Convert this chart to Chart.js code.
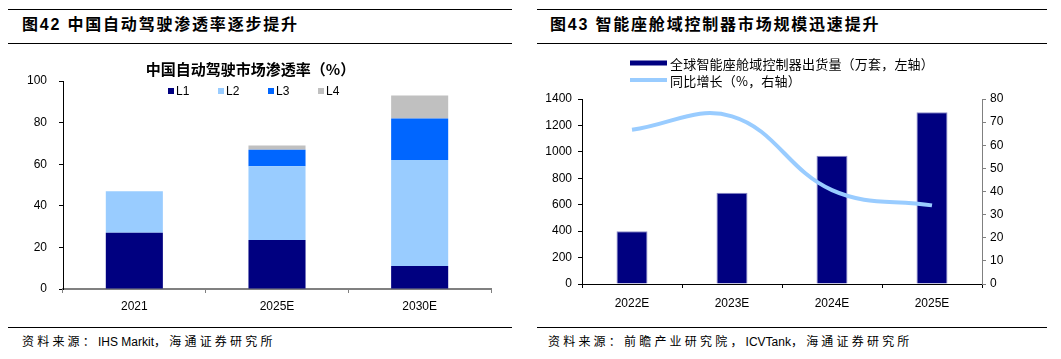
<!DOCTYPE html>
<html lang="zh">
<head>
<meta charset="UTF-8">
<title>自动驾驶渗透率 / 智能座舱域控制器</title>
<script src="https://cdn.jsdelivr.net/npm/chart.js"></script>
<style>
    body {
        margin: 0;
        width: 1061px;
        height: 359px;
        background: #fff;
        position: relative;
        overflow: hidden;
        font-family: "Liberation Sans", "Noto Sans CJK SC", sans-serif;
        color: #000;
    }
    .rule { position: absolute; height: 1px; background: #000; }
    .head {
        position: absolute;
        font-size: 16px;
        font-weight: bold;
        letter-spacing: 1.8px;
        line-height: 20px;
        white-space: nowrap;
    }
    .src {
        position: absolute;
        font-size: 12px;
        letter-spacing: 3.2px;
        line-height: 16px;
        white-space: nowrap;
    }
    .src span { letter-spacing: 0; }
    canvas { position: absolute; }
</style>
</head>
<body>
<!-- 左：图42 -->
<div class="rule" style="left:8px;top:9px;width:504px"></div>
<div class="head" style="left:22px;top:15px">图42 中国自动驾驶渗透率逐步提升</div>
<div class="rule" style="left:8px;top:43px;width:504px"></div>
<canvas id="penetration" width="502" height="276" style="left:10px;top:48px"></canvas>
<div class="rule" style="left:8px;top:327px;width:504px"></div>
<div class="src" style="left:22px;top:334px">资料来源：<span>IHS Markit</span>，海通证券研究所</div>

<!-- 右：图43 -->
<div class="rule" style="left:537px;top:9px;width:510px"></div>
<div class="head" style="left:550px;top:15px">图43 智能座舱域控制器市场规模迅速提升</div>
<div class="rule" style="left:537px;top:43px;width:510px"></div>
<canvas id="cockpit" width="510" height="276" style="left:537px;top:48px"></canvas>
<div class="rule" style="left:537px;top:327px;width:510px"></div>
<div class="src" style="left:548px;top:334px">资料来源：前瞻产业研究院，<span>ICVTank</span>，海通证券研究所</div>

<script>
    // 图42 数据（%）
    const years1 = ['2021', '2025E', '2030E'];
    const l1 = [27, 23.5, 11];
    const l2 = [20, 35.5, 51];
    const l3 = [0, 8, 20];
    const l4 = [0, 2, 11];

    // 图43 数据
    const years2 = ['2022E', '2023E', '2024E', '2025E'];
    const shipments = [400, 690, 970, 1300];   // 万套
    const growth = [66.7, 72.5, 40.6, 34.0];   // %

    const tickFont = { family: '"Liberation Sans", Arial, sans-serif', size: 12 };
    const cjkFont = '"Noto Sans CJK SC", sans-serif';
    const plain = v => String(v);   // 不要千位分隔符

    // 图例：画在绘图区内部
    function legendPlugin(o) {
        return {
            id: 'innerLegend',
            afterDraw(chart) {
                const ctx = chart.ctx;
                ctx.save();
                ctx.font = o.font;
                ctx.textBaseline = 'middle';
                ctx.textAlign = 'left';
                if ('letterSpacing' in ctx) ctx.letterSpacing = o.spacing || '0px';
                let x = o.x, y = o.y;
                chart.data.datasets.forEach(ds => {
                    if (ds.type === 'line') {
                        ctx.strokeStyle = ds.borderColor;
                        ctx.lineWidth = o.lineWidth;
                        ctx.beginPath();
                        ctx.moveTo(x, y);
                        ctx.lineTo(x + o.boxW, y);
                        ctx.stroke();
                    } else {
                        ctx.fillStyle = ds.backgroundColor;
                        ctx.fillRect(x, y - o.boxH / 2, o.boxW, o.boxH);
                    }
                    ctx.fillStyle = '#000';
                    ctx.fillText(ds.label, x + o.boxW + o.gap, y + 1);
                    x += o.dx;
                    y += o.dy;
                });
                ctx.restore();
            }
        };
    }

    new Chart(document.getElementById('penetration'), {
        type: 'bar',
        data: {
            labels: years1,
            datasets: [
                { label: 'L1', data: l1, backgroundColor: '#000080' },
                { label: 'L2', data: l2, backgroundColor: '#99CCFF' },
                { label: 'L3', data: l3, backgroundColor: '#0066FF' },
                { label: 'L4', data: l4, backgroundColor: '#C0C0C0' }
            ]
        },
        options: {
            responsive: false,
            animation: false,
            layout: { padding: { right: 21 } },
            datasets: { bar: { categoryPercentage: 1, barPercentage: 0.4 } },
            plugins: {
                legend: { display: false },
                tooltip: { enabled: false },
                title: {
                    display: true,
                    text: '中国自动驾驶市场渗透率（%）',
                    color: '#000',
                    font: { family: cjkFont, size: 15, weight: 'bold' },
                    padding: { top: 12, bottom: 3 }
                }
            },
            scales: {
                x: {
                    stacked: true,
                    afterFit(s) { s.height = 35; },
                    border: { color: '#808080', width: 2 },
                    grid: { drawOnChartArea: false, tickLength: 4, color: '#808080', lineWidth: 1 },
                    ticks: { color: '#000', font: tickFont, padding: 6 }
                },
                y: {
                    stacked: true,
                    min: 0,
                    max: 100,
                    afterFit(s) { s.width = 53; },
                    border: { color: '#000', width: 1 },
                    grid: { drawOnChartArea: false, tickLength: 4, color: '#000' },
                    ticks: { stepSize: 20, color: '#000', font: tickFont, padding: 12, callback: plain }
                }
            }
        },
        plugins: [legendPlugin({
            x: 158, y: 43, dx: 50, dy: 0, boxW: 6, boxH: 6, gap: 2,
            font: '12px "Liberation Sans", Arial, sans-serif'
        })]
    });

    new Chart(document.getElementById('cockpit'), {
        data: {
            labels: years2,
            datasets: [
                {
                    type: 'bar',
                    label: '全球智能座舱域控制器出货量（万套，左轴）',
                    data: shipments,
                    yAxisID: 'y',
                    backgroundColor: '#000080',
                    borderColor: '#8c8cc8',
                    borderWidth: 1,
                    categoryPercentage: 1,
                    barPercentage: 0.31,
                    order: 1
                },
                {
                    type: 'line',
                    label: '同比增长（%，右轴）',
                    data: growth,
                    yAxisID: 'y1',
                    borderColor: '#99CCFF',
                    borderWidth: 4,
                    pointRadius: 0,
                    tension: 0.4,
                    order: 0
                }
            ]
        },
        options: {
            responsive: false,
            animation: false,
            layout: { padding: { top: 51 } },
            plugins: {
                legend: { display: false },
                tooltip: { enabled: false }
            },
            scales: {
                x: {
                    afterFit(s) { s.height = 40; },
                    border: { color: '#000', width: 1 },
                    grid: { offset: true, drawOnChartArea: false, tickLength: 4, color: '#000' },
                    ticks: { color: '#000', font: tickFont, padding: 8 }
                },
                y: {
                    position: 'left',
                    min: 0,
                    max: 1400,
                    afterFit(s) { s.width = 45; },
                    border: { color: '#000', width: 1 },
                    grid: { drawOnChartArea: false, tickLength: 4, color: '#000' },
                    ticks: { stepSize: 200, color: '#000', font: tickFont, padding: 6, callback: plain }
                },
                y1: {
                    position: 'right',
                    min: 0,
                    max: 80,
                    afterFit(s) { s.width = 65; },
                    border: { color: '#808080', width: 1 },
                    grid: { drawOnChartArea: false, tickLength: 4, color: '#808080' },
                    ticks: { stepSize: 10, color: '#000', font: tickFont, padding: 4, callback: plain }
                }
            }
        },
        plugins: [legendPlugin({
            x: 93, y: 15, dx: 0, dy: 17, boxW: 37, boxH: 5, gap: 3, lineWidth: 4,
            font: '13px ' + cjkFont, spacing: '0.2px'
        })]
    });
</script>
</body>
</html>
